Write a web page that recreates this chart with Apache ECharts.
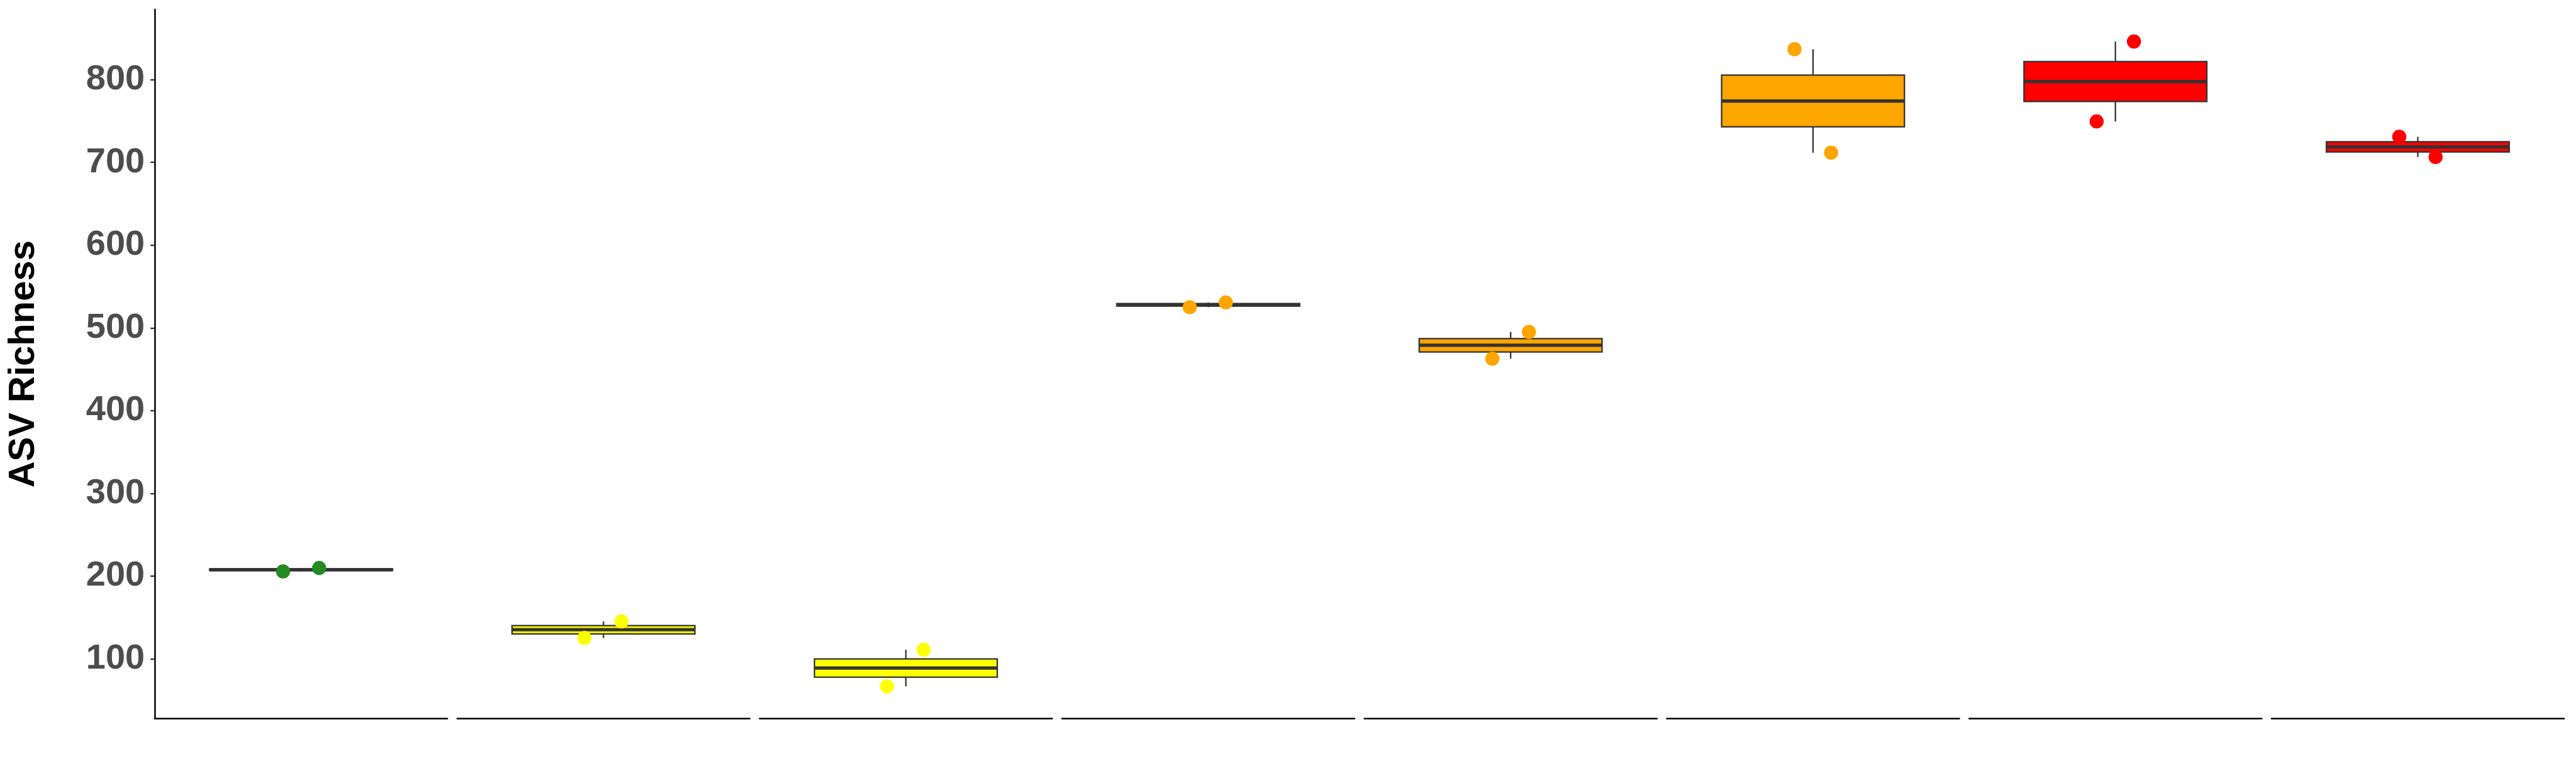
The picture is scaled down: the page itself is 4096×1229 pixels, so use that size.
<!DOCTYPE html>
<html>
<head>
<meta charset="utf-8">
<script src="https://cdn.jsdelivr.net/npm/echarts@6/dist/echarts.min.js"></script>
<style>
html,body{margin:0;padding:0;background:#ffffff;}
#chart{width:4096px;height:1229px;}
</style>
</head>
<body>
<div id="chart"></div>
<script>
// ---- data ----
const groups = ['G1', 'G2', 'G3', 'G4', 'G5', 'G6', 'G7', 'G8'];
const groupColors = ['#228B22', '#FFFF00', '#FFFF00', '#FFA500', '#FFA500', '#FFA500', '#FF0000', '#FF0000'];
const whiskerLow  = [205.6, 125.1, 66.7, 525.0, 462.8, 711.7, 749.5, 706.5];
const quartile1   = [206.6, 130.1, 77.75, 526.4, 470.9, 742.95, 773.65, 712.6];
const medians     = [207.65, 135.1, 88.8, 527.85, 478.95, 774.25, 797.8, 718.75];
const quartile3   = [208.7, 140.1, 99.85, 529.3, 487.0, 805.55, 821.95, 724.9];
const whiskerHigh = [209.7, 145.1, 110.9, 530.7, 495.1, 836.8, 846.1, 731.0];
const pointValues  = [[205.6, 209.7], [125.1, 145.1], [66.7, 110.9], [525.0, 530.7], [462.8, 495.1], [836.8, 711.7], [749.5, 846.1], [731.0, 706.5]];
const pointOffsets = [[-0.074, 0.074], [-0.078, 0.074], [-0.077, 0.073], [-0.076, 0.072], [-0.075, 0.075], [-0.076, 0.074], [-0.077, 0.076], [-0.076, 0.073]];
const yTicks = [100, 200, 300, 400, 500, 600, 700, 800];
const yMin = 27.8, yMax = 884.9;
const yName = 'ASV Richness';

// ---- layout (reference px * 0.682) ----
const S = 0.682;
const FONT = "'Liberation Sans', Arial, Helvetica, sans-serif";
const panelLeft0 = 361 * S, panelPitch = 705 * S, panelWidth = 682 * S;
const panelTop = 22 * S, panelHeight = (1675 - 22) * S;
const LW = 2.3, MEDIAN_LW = 5.2, AXIS_LW = 2.5;

const grids = [], xAxes = [], yAxes = [], series = [];
groups.forEach((g, i) => {
  grids.push({ left: panelLeft0 + i * panelPitch, top: panelTop, width: panelWidth, height: panelHeight, containLabel: false });
  xAxes.push({
    gridIndex: i, type: 'value', min: 0.4, max: 1.6,
    axisLine: { show: true, onZero: false, lineStyle: { color: '#000000', width: AXIS_LW } },
    axisTick: { show: false }, axisLabel: { show: false }, splitLine: { show: false }
  });
  if (i === 0) {
    yAxes.push({
      gridIndex: i, type: 'value', min: yMin, max: yMax,
      name: yName, nameLocation: 'middle', nameRotate: 90, nameGap: 179,
      nameTextStyle: { fontSize: 58, fontWeight: 'bold', color: '#000000', fontFamily: FONT },
      axisLine: { show: true, onZero: false, lineStyle: { color: '#000000', width: AXIS_LW } },
      axisTick: { show: true, length: 7, customValues: yTicks, lineStyle: { color: '#333333', width: 2.3 } },
      axisLabel: { show: true, customValues: yTicks, margin: 16, fontSize: 56, fontWeight: 'bold', color: '#4D4D4D', fontFamily: FONT },
      splitLine: { show: false }
    });
  } else {
    yAxes.push({ gridIndex: i, type: 'value', min: yMin, max: yMax, show: false, splitLine: { show: false } });
  }
  const color = groupColors[i];
  series.push({
    type: 'custom', name: g, xAxisIndex: i, yAxisIndex: i, z: 2, clip: false,
    data: [[1, whiskerLow[i], quartile1[i], medians[i], quartile3[i], whiskerHigh[i]]],
    renderItem: function (params, api) {
      const x = api.value(0);
      const lo = api.value(1), q1 = api.value(2), med = api.value(3), q3 = api.value(4), hi = api.value(5);
      const cHi = api.coord([x, hi]), cQ3 = api.coord([x, q3]), cQ1 = api.coord([x, q1]), cLo = api.coord([x, lo]);
      const tl = api.coord([x - 0.375, q3]), br = api.coord([x + 0.375, q1]);
      const mL = api.coord([x - 0.375, med]), mR = api.coord([x + 0.375, med]);
      return {
        type: 'group',
        children: [
          { type: 'line', shape: { x1: cHi[0], y1: cHi[1], x2: cQ3[0], y2: cQ3[1] }, style: { stroke: '#333333', lineWidth: LW } },
          { type: 'line', shape: { x1: cQ1[0], y1: cQ1[1], x2: cLo[0], y2: cLo[1] }, style: { stroke: '#333333', lineWidth: LW } },
          { type: 'rect', shape: { x: tl[0], y: tl[1], width: br[0] - tl[0], height: br[1] - tl[1] }, style: { fill: color, stroke: '#333333', lineWidth: LW } },
          { type: 'line', shape: { x1: mL[0], y1: mL[1], x2: mR[0], y2: mR[1] }, style: { stroke: '#333333', lineWidth: MEDIAN_LW } }
        ]
      };
    }
  });
  series.push({
    type: 'scatter', name: g + ' points', xAxisIndex: i, yAxisIndex: i, z: 5,
    symbol: 'circle', symbolSize: 22.5,
    itemStyle: { color: color, opacity: 1 },
    data: pointValues[i].map((v, k) => [1 + pointOffsets[i][k], v])
  });
});

const chart = echarts.init(document.getElementById('chart'), null, { renderer: 'canvas' });
chart.setOption({
  animation: false,
  backgroundColor: '#ffffff',
  grid: grids,
  xAxis: xAxes,
  yAxis: yAxes,
  series: series
});
</script>
</body>
</html>
